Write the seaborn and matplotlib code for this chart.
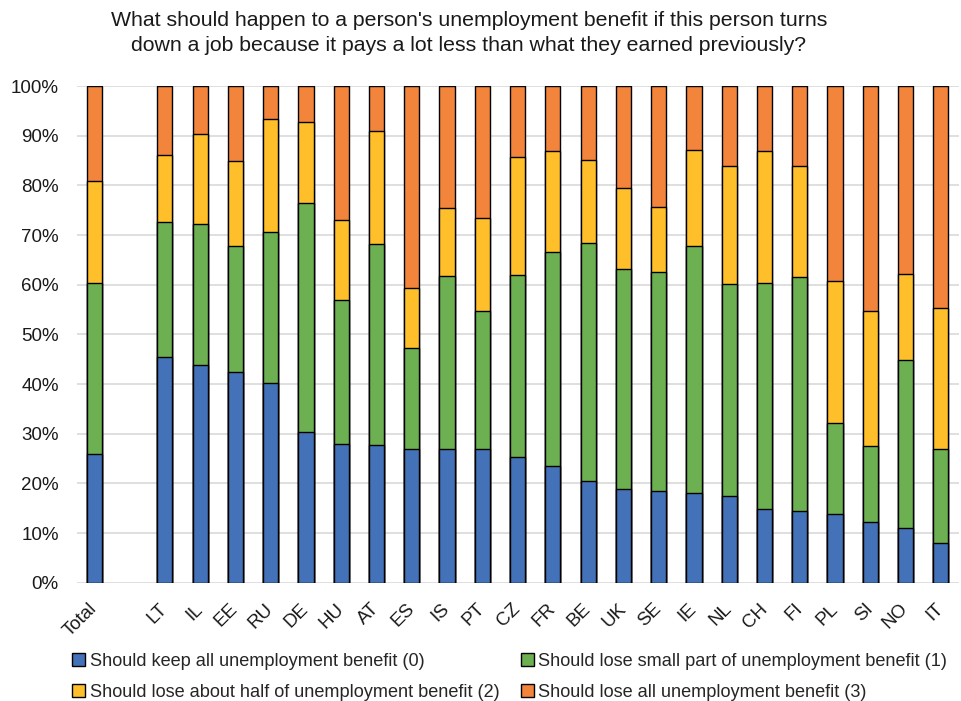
import matplotlib
matplotlib.use("Agg")
import matplotlib.pyplot as plt
from matplotlib.patches import Patch
from matplotlib.ticker import PercentFormatter
import numpy as np
import pandas as pd
import seaborn as sns

# Countries ordered by share "keep all"; the blank slot separates the overall total
countries = ["Total", " ", "LT", "IL", "EE", "RU", "DE", "HU", "AT", "ES", "IS", "PT",
             "CZ", "FR", "BE", "UK", "SE", "IE", "NL", "CH", "FI", "PL", "SI", "NO", "IT"]
data_countries = [c for c in countries if c.strip()]

keep_all = [26.0, 45.4, 43.9, 42.4, 40.3, 30.3, 27.9, 27.7, 27.0, 27.0, 27.0,
            25.3, 23.5, 20.4, 18.9, 18.5, 18.0, 17.5, 14.9, 14.5, 13.9, 12.2, 11.0, 7.9]
lose_small = [34.3, 27.3, 28.3, 25.4, 30.3, 46.1, 29.1, 40.4, 20.2, 34.8, 27.6,
              36.7, 43.1, 47.9, 44.2, 44.0, 49.8, 42.7, 45.5, 47.0, 18.3, 15.3, 33.8, 19.1]
lose_half = [20.6, 13.4, 18.1, 17.2, 22.7, 16.4, 16.0, 22.8, 12.1, 13.6, 18.9,
             23.7, 20.3, 16.8, 16.4, 13.2, 19.3, 23.6, 26.5, 22.4, 28.5, 27.1, 17.4, 28.3]
lose_all = [19.1, 13.9, 9.7, 15.0, 6.7, 7.2, 27.0, 9.1, 40.7, 24.6, 26.5,
            14.3, 13.1, 14.9, 20.5, 24.3, 12.9, 16.2, 13.1, 16.1, 39.3, 45.4, 37.8, 44.7]

series_labels = ["Should keep all unemployment benefit (0)",
                 "Should lose small part of unemployment benefit (1)",
                 "Should lose about half of unemployment benefit (2)",
                 "Should lose all unemployment benefit (3)"]
colors = ["#4472B8", "#6CB052", "#FEBF2A", "#F2843C"]

title = ("What should happen to a person's unemployment benefit if this person turns\n"
         "down a job because it pays a lot less than what they earned previously?")

sns.set_theme(style="white")
plt.rcParams["font.family"] = ["Liberation Sans", "DejaVu Sans"]

df = pd.DataFrame({"country": data_countries, "s0": keep_all, "s1": lose_small,
                   "s2": lose_half, "s3": lose_all})
segs = ["s0", "s1", "s2", "s3"]
cum = df[segs].cumsum(axis=1)

fig = plt.figure(figsize=(9.61, 7.01), dpi=100)
ax = fig.add_axes([0.0798, 0.1688, 0.9176, 0.7085])

# Stacked bars: draw cumulative totals from the top layer downwards
for i in range(3, -1, -1):
    sns.barplot(x=df["country"], y=cum[segs[i]], order=countries, color=colors[i],
                width=0.43, edgecolor="black", linewidth=1.0, saturation=1,
                ax=ax, zorder=3)

ax.set_xlim(-0.5, len(countries) - 0.5)
ax.set_ylim(0, 100)
ax.set_yticks(np.arange(0, 101, 10))
ax.yaxis.set_major_formatter(PercentFormatter(decimals=0))
ax.grid(axis="y", color="#d9d9d9", linewidth=1.2, zorder=0)
ax.set_axisbelow(True)
for s in ax.spines.values():
    s.set_visible(False)
ax.set_xlabel("")
ax.set_ylabel("")
ax.tick_params(axis="y", length=0, pad=13, labelsize=13.5, labelcolor="#1a1a1a")
ax.tick_params(axis="x", length=0, pad=17, labelsize=13.5, labelcolor="#1a1a1a")
plt.setp(ax.get_xticklabels(), rotation=45, ha="right", va="center",
         rotation_mode="anchor")

fig.text(0.488, 0.985, title, ha="center", va="top", fontsize=15.3,
         color="#1a1a1a", linespacing=1.45)

# Legend laid out row by row: (0) (1) / (2) (3)
order = [0, 2, 1, 3]
handles = [Patch(facecolor=colors[k], edgecolor="black", linewidth=1.0) for k in order]
fig.legend(handles, [series_labels[k] for k in order], ncol=2, loc="lower left",
           bbox_to_anchor=(0.062, -0.018), frameon=False, fontsize=13.1,
           handlelength=0.7, handleheight=0.7, handletextpad=0.25,
           columnspacing=1.2, labelspacing=0.75, borderaxespad=0.3)

fig.savefig("out.png", dpi=100)
